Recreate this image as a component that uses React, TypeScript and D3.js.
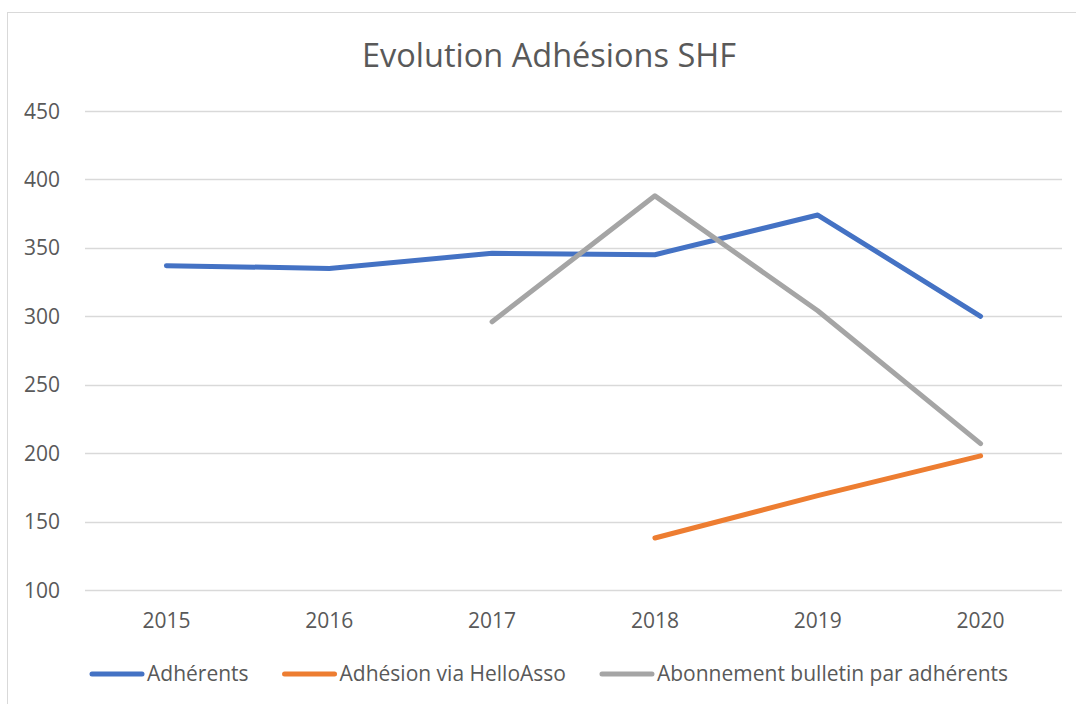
import { useEffect, useRef } from "react";
import * as d3 from "d3";

const years = ["2015", "2016", "2017", "2018", "2019", "2020"];
const adherents = [337, 335, 346, 345, 374, 300];
const helloAsso = [null, null, null, 138, 169, 198];
const abonnement = [null, null, 296, 388, 304, 207];
const yTicks = [100, 150, 200, 250, 300, 350, 400, 450];

const seriesNames = [
  "Adhérents",
  "Adhésion via HelloAsso",
  "Abonnement bulletin par adhérents",
];
const colors = ["#4472C4", "#ED7D31", "#A5A5A5"];

const width = 1076;
const height = 704;
const MARGIN = { top: 111, right: 14, bottom: 114, left: 85 };
const FONT = "'Open Sans', Lato, sans-serif";

function App() {
  const svgRef = useRef(null);

  useEffect(() => {
    const svg = d3.select(svgRef.current);
    svg.selectAll("*").remove();

    const boundedWidth = width - MARGIN.left - MARGIN.right;
    const boundedHeight = height - MARGIN.top - MARGIN.bottom;

    // frame
    svg.append("rect")
      .attr("x", 7.5).attr("y", 12.5)
      .attr("width", width).attr("height", height)
      .attr("fill", "white").attr("stroke", "#d9d9d9");

    svg.append("text")
      .attr("x", 549).attr("y", 67)
      .attr("text-anchor", "middle")
      .attr("font-family", FONT).attr("font-size", 32.5)
      .attr("fill", "#595959")
      .text("Evolution Adhésions SHF");

    const xScale = d3.scalePoint()
      .domain(years)
      .range([0, boundedWidth])
      .padding(0.5);

    const yScale = d3.scaleLinear()
      .domain([100, 450])
      .range([boundedHeight, 0]);

    const g = svg.append("g")
      .attr("transform", `translate(${MARGIN.left},${MARGIN.top})`);

    // grid
    g.selectAll(".grid")
      .data(yTicks)
      .join("line")
      .attr("x1", 0).attr("x2", boundedWidth)
      .attr("y1", d => Math.round(yScale(d)) + 0.5)
      .attr("y2", d => Math.round(yScale(d)) + 0.5)
      .attr("stroke", "#d9d9d9").attr("stroke-width", 1.3);

    g.selectAll(".ylab")
      .data(yTicks)
      .join("text")
      .attr("x", -25).attr("y", d => yScale(d) + 7.5)
      .attr("text-anchor", "end")
      .attr("font-family", FONT).attr("font-size", 21)
      .attr("fill", "#595959")
      .text(d => d);

    g.selectAll(".xlab")
      .data(years)
      .join("text")
      .attr("x", d => xScale(d))
      .attr("y", boundedHeight + 38)
      .attr("text-anchor", "middle")
      .attr("font-family", FONT).attr("font-size", 21)
      .attr("fill", "#595959")
      .text(d => d);

    const line = d3.line<number | null>()
      .defined(d => d != null)
      .x((_, i) => xScale(years[i]))
      .y(d => yScale(d as number));

    [adherents, helloAsso, abonnement].forEach((s, i) => {
      g.append("path")
        .datum(s)
        .attr("fill", "none")
        .attr("stroke", colors[i])
        .attr("stroke-width", 5)
        .attr("stroke-linecap", "round")
        .attr("stroke-linejoin", "round")
        .attr("d", line);
    });

    // legend, laid out from measured text widths
    const legend = svg.append("g");
    let x0 = 90;
    seriesNames.forEach((name, i) => {
      legend.append("line")
        .attr("x1", x0 + 2).attr("x2", x0 + 52)
        .attr("y1", 674).attr("y2", 674)
        .attr("stroke", colors[i]).attr("stroke-width", 5)
        .attr("stroke-linecap", "round");
      const t = legend.append("text")
        .attr("x", x0 + 57).attr("y", 681)
        .attr("font-family", FONT).attr("font-size", 21)
        .attr("fill", "#595959")
        .text(name);
      const w = (t.node() as SVGTextElement).getComputedTextLength();
      x0 = x0 + 57 + w + 34;
    });
  }, []);

  return (
    <div style={{ position: "absolute", left: 0, top: 0 }}>
      <svg width={width} height={height} ref={svgRef} style={{ display: "block" }}></svg>
    </div>
  );
}

export default App;
